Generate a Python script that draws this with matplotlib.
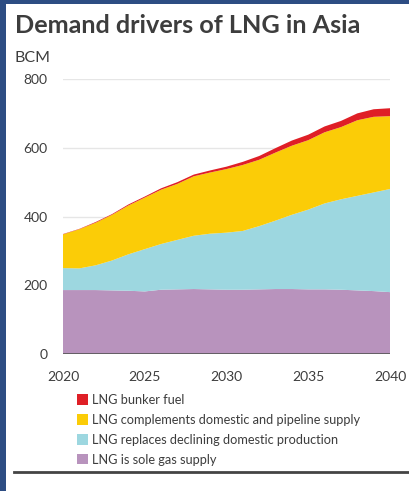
import matplotlib.pyplot as plt
from matplotlib.patches import Rectangle, Patch
from matplotlib.lines import Line2D
import numpy as np

# Asian LNG demand by driver, BCM
years = np.arange(2020, 2041)
sole_supply = [186, 186, 186, 185, 184, 182, 187, 188, 189, 188, 187,
               187, 188, 189, 189, 188, 188, 187, 185, 183, 180]
replaces_domestic = [64, 63, 72, 87, 106, 123, 133, 144, 155, 162, 166,
                     171, 184, 199, 216, 232, 250, 263, 275, 287, 300]
complements_supply = [98, 114, 124, 133, 142, 150, 158, 163, 173, 178, 185,
                      192, 193, 198, 201, 202, 207, 210, 220, 220, 212]
bunker_fuel = [1, 1, 2, 2, 3, 3, 4, 5, 5, 6, 7,
               9, 11, 13, 15, 16, 17, 18, 20, 22, 23]

labels = ['LNG is sole gas supply',
          'LNG replaces declining domestic production',
          'LNG complements domestic and pipeline supply',
          'LNG bunker fuel']
colors = ['#b893bd', '#9dd7e0', '#fbcc07', '#df1f26']
text_color = '#3d3d3d'

plt.rcParams['font.family'] = ['Lato', 'DejaVu Sans']

fig = plt.figure(figsize=(4.09, 4.91), dpi=100)
ax = fig.add_axes([63 / 409, 1 - 354 / 491, 327 / 409, 275 / 491])

ax.stackplot(years, sole_supply, replaces_domestic, complements_supply, bunker_fuel,
             colors=colors, linewidth=0, zorder=2)

ax.set_xlim(2020, 2040)
ax.set_ylim(0, 800)
ax.set_yticks([0, 200, 400, 600, 800])
ax.set_xticks([2020, 2025, 2030, 2035, 2040])
ax.grid(axis='y', color='#e6e6e6', linewidth=1, zorder=0)
ax.axhline(0, color='#555555', linewidth=1.2, zorder=3)
for s in ax.spines.values():
    s.set_visible(False)
ax.tick_params(length=0, labelsize=10, colors=text_color)
ax.tick_params(axis='y', pad=11)
ax.tick_params(axis='x', pad=12)

fig.text(15 / 409, 1 - 33 / 491, 'Demand drivers of LNG in Asia', fontsize=18.2,
         fontweight='bold', color=text_color, ha='left', va='baseline')
fig.text(15 / 409, 1 - 62 / 491, 'BCM', fontsize=11.5, color=text_color,
         ha='left', va='baseline')

handles = [Patch(facecolor=c, edgecolor='none') for c in colors[::-1]]
fig.legend(handles, labels[::-1], loc='upper left', bbox_to_anchor=(77 / 409, 1 - 394 / 491),
           frameon=False, fontsize=9.2, handlelength=0.85, handleheight=0.85,
           handletextpad=0.35, labelspacing=0.62, borderaxespad=0, borderpad=0,
           labelcolor=text_color)

# page frame
fig.patches.append(Rectangle((0, 0), 6 / 409, 1, transform=fig.transFigure,
                             facecolor='#2d4d83', edgecolor='none'))
fig.patches.append(Rectangle((0, 1 - 4 / 491), 1, 4 / 491, transform=fig.transFigure,
                             facecolor='#2d4d83', edgecolor='none'))
fig.lines.append(Line2D([14 / 409, 1], [1 - 472 / 491, 1 - 472 / 491],
                        transform=fig.transFigure, color='#444444', linewidth=2))

fig.savefig('out.png', dpi=100)
